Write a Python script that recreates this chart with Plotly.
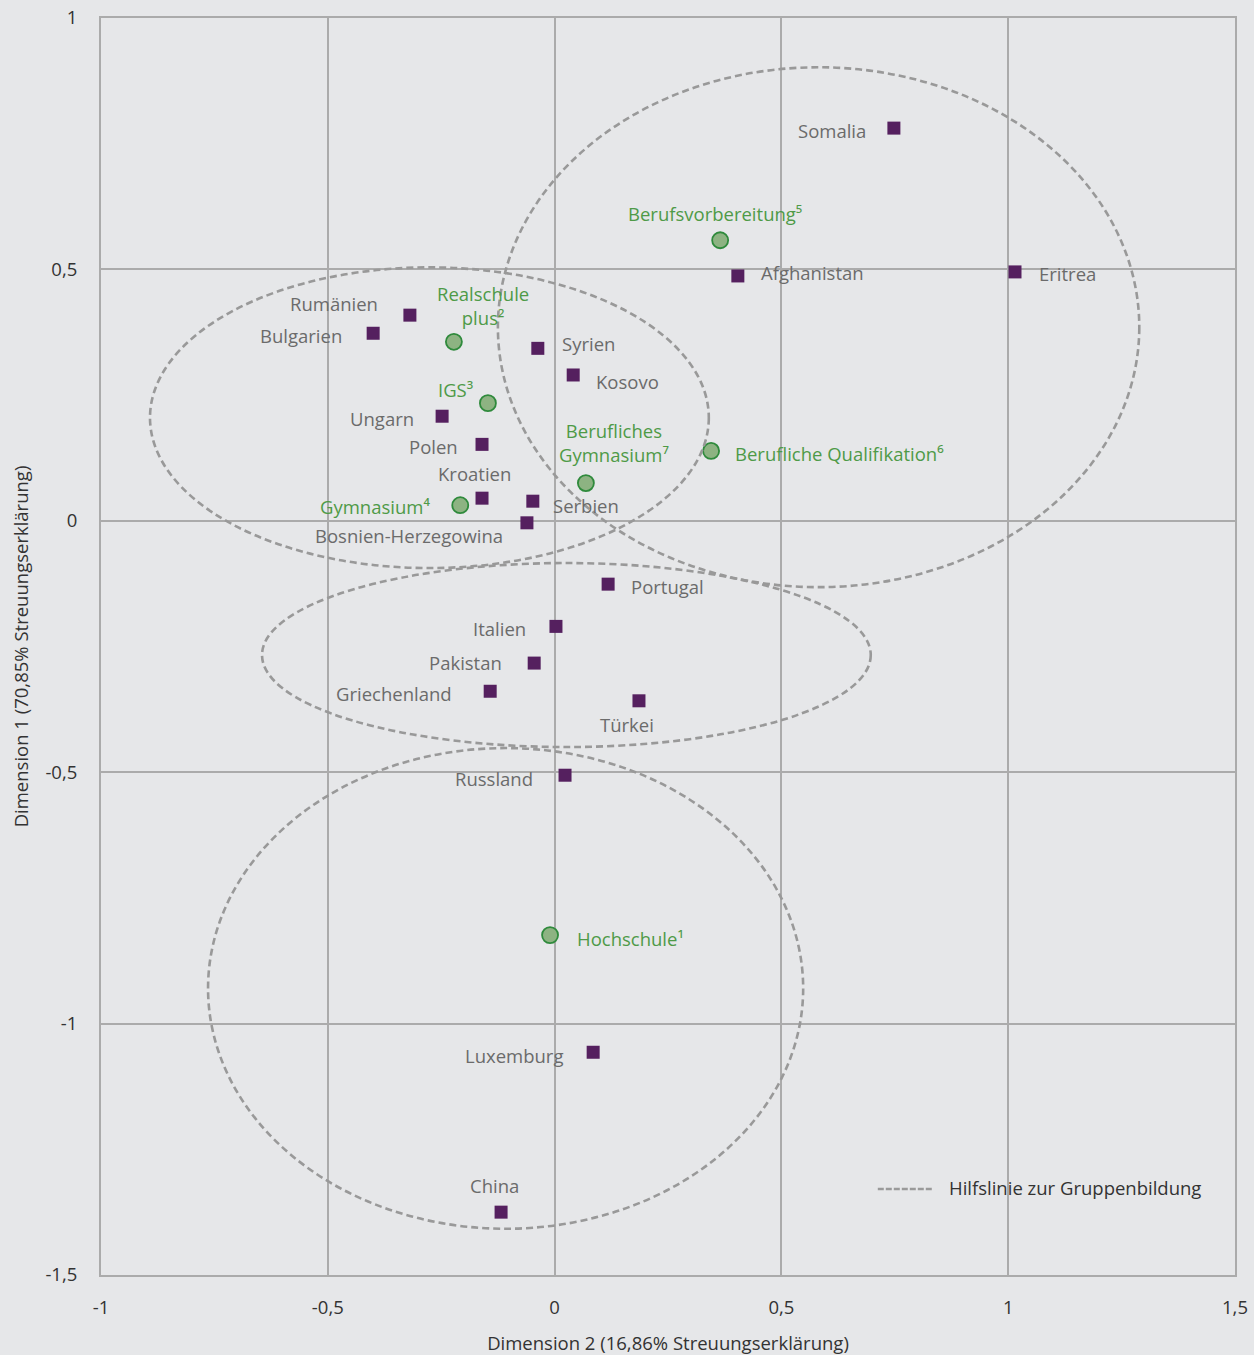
import plotly.graph_objects as go

# ---- Data ----
countries = ["Somalia", "Eritrea", "Afghanistan", "Rumänien", "Bulgarien", "Syrien", "Kosovo",
             "Ungarn", "Polen", "Kroatien", "Serbien", "Bosnien-Herzegowina", "Portugal",
             "Italien", "Pakistan", "Griechenland", "Türkei", "Russland", "Luxemburg", "China"]
country_dim2 = [0.748, 1.015, 0.404, -0.319, -0.400, -0.037, 0.041, -0.248, -0.160, -0.160,
                -0.048, -0.061, 0.118, 0.003, -0.045, -0.142, 0.186, 0.023, 0.085, -0.118]
country_dim1 = [0.781, 0.495, 0.487, 0.409, 0.373, 0.343, 0.290, 0.208, 0.152, 0.045,
                0.039, -0.004, -0.126, -0.210, -0.283, -0.339, -0.358, -0.506, -1.057, -1.375]

schools = ["Berufsvorbereitung⁵", "Realschule<br>plus²", "IGS³", "Berufliche Qualifikation⁶",
           "Berufliches<br>Gymnasium⁷", "Gymnasium⁴", "Hochschule¹"]
school_dim2 = [0.365, -0.222, -0.147, 0.345, 0.069, -0.208, -0.010]
school_dim1 = [0.558, 0.356, 0.234, 0.139, 0.075, 0.031, -0.824]

# guide ellipses: center (dim2, dim1) and radii
ell_cx = [0.582, -0.276, 0.026, -0.108]
ell_cy = [0.385, 0.205, -0.267, -0.930]
ell_rx = [0.707, 0.616, 0.671, 0.656]
ell_ry = [0.517, 0.299, 0.183, 0.478]

x_ticks = [-1, -0.5, 0, 0.5, 1, 1.5]
x_tick_labels = ["-1", "-0,5", "0", "0,5", "1", "1,5"]
y_ticks = [-1.5, -1, -0.5, 0, 0.5, 1]
y_tick_labels = ["-1,5", "-1", "-0,5", "0", "0,5", "1"]

legend_label = "Hilfslinie zur Gruppenbildung"
x_title = "Dimension 2 (16,86% Streuungserklärung)"
y_title = "Dimension 1 (70,85% Streuungserklärung)"

# ---- Styles ----
BG = "#e6e7e9"
GRID = "#ababab"
PURPLE = "#55205f"
GREEN_TXT = "#4e9a47"
GREY_TXT = "#6b6b6b"
DARK_TXT = "#333333"
FONT = "Open Sans"
FS = 18.5

# label placement (anchor, xshift, yshift) per label
country_pos = {
    "Somalia": ("right", -26, -2), "Eritrea": ("left", 22, -2), "Afghanistan": ("left", 21, 3),
    "Rumänien": ("right", -30, 12), "Bulgarien": ("right", -29, -2), "Syrien": ("left", 22, 5),
    "Kosovo": ("left", 21, -7), "Ungarn": ("right", -26, -2), "Polen": ("right", -22, -2),
    "Kroatien": ("center", -8, 25), "Serbien": ("left", 18, -4), "Bosnien-Herzegowina": ("center", -118, -13),
    "Portugal": ("left", 21, -2), "Italien": ("right", -28, -2), "Pakistan": ("right", -30, 1),
    "Griechenland": ("right", -36, -2), "Türkei": ("center", -12, -24), "Russland": ("right", -30, -3),
    "Luxemburg": ("right", -28, -3), "China": ("center", -7, 27),
}
school_pos = {
    "Berufsvorbereitung⁵": ("center", -5, 27), "Realschule<br>plus²": ("center", 29, 36),
    "IGS³": ("center", -32, 14), "Berufliche Qualifikation⁶": ("left", 22, -3),
    "Berufliches<br>Gymnasium⁷": ("center", 28, 41), "Gymnasium⁴": ("right", -28, -1),
    "Hochschule¹": ("left", 25, -3),
}

fig = go.Figure()

# ellipses
for cx, cy, rx, ry in zip(ell_cx, ell_cy, ell_rx, ell_ry):
    fig.add_shape(type="circle", xref="x", yref="y",
                  x0=cx - rx, x1=cx + rx, y0=cy - ry, y1=cy + ry,
                  line=dict(color="#999999", width=2.6, dash="7px,4px"), layer="above")

fig.add_trace(go.Scatter(x=country_dim2, y=country_dim1, mode="markers",
                         marker=dict(symbol="square", size=13, color=PURPLE, line=dict(width=0)),
                         showlegend=False, hoverinfo="text", text=countries))
fig.add_trace(go.Scatter(x=school_dim2, y=school_dim1, mode="markers",
                         marker=dict(symbol="circle", size=16, color="#8db382",
                                     line=dict(width=1.8, color="#2f8a3c")),
                         showlegend=False, hoverinfo="text", text=schools))

for name, x, y in zip(countries, country_dim2, country_dim1):
    anc, dx, dy = country_pos[name]
    fig.add_annotation(x=x, y=y, text=name, showarrow=False, xanchor=anc, yanchor="middle",
                       xshift=dx, yshift=dy, font=dict(family=FONT, size=FS, color=GREY_TXT))
for name, x, y in zip(schools, school_dim2, school_dim1):
    anc, dx, dy = school_pos[name]
    fig.add_annotation(x=x, y=y, text=name, showarrow=False, xanchor=anc, yanchor="middle",
                       xshift=dx, yshift=dy, align="center",
                       font=dict(family=FONT, size=FS, color=GREEN_TXT))

# legend (drawn manually, inside plot bottom-right)
fig.add_shape(type="line", xref="paper", yref="paper", x0=0.685, x1=0.734, y0=0.0685, y1=0.0685,
              line=dict(color="#9a9a9a", width=2.5, dash="6px,2px"))
fig.add_annotation(xref="paper", yref="paper", x=0.746, y=0.0695, text=legend_label,
                   showarrow=False, xanchor="left", yanchor="middle",
                   font=dict(family=FONT, size=FS, color=DARK_TXT))

axis_common = dict(showgrid=True, gridcolor=GRID, gridwidth=1.5, zeroline=True, zerolinecolor=GRID,
                   zerolinewidth=2, showline=True, linecolor=GRID, linewidth=2, mirror=True,
                   ticks="", automargin=False, tickfont=dict(family=FONT, size=FS, color=DARK_TXT))

fig.update_layout(
    width=1254, height=1355,
    paper_bgcolor=BG, plot_bgcolor=BG,
    margin=dict(l=101, r=19, t=18, b=80),
    font=dict(family=FONT, size=FS, color=DARK_TXT),
    xaxis=dict(range=[-1, 1.5], tickvals=x_ticks, ticktext=x_tick_labels, ticklabelstandoff=15,
               title=dict(text=x_title, standoff=20, font=dict(family=FONT, size=FS, color=DARK_TXT)),
               **axis_common),
    yaxis=dict(range=[-1.5, 1], tickvals=y_ticks, ticktext=y_tick_labels, ticklabelstandoff=18,
               title=dict(text=y_title, standoff=12, font=dict(family=FONT, size=FS, color=DARK_TXT)),
               **axis_common),
    showlegend=False,
)

fig.write_html("out.html", config={"displayModeBar": False},
               post_script="document.body.style.margin='0';document.body.style.background='#e6e7e9';")
